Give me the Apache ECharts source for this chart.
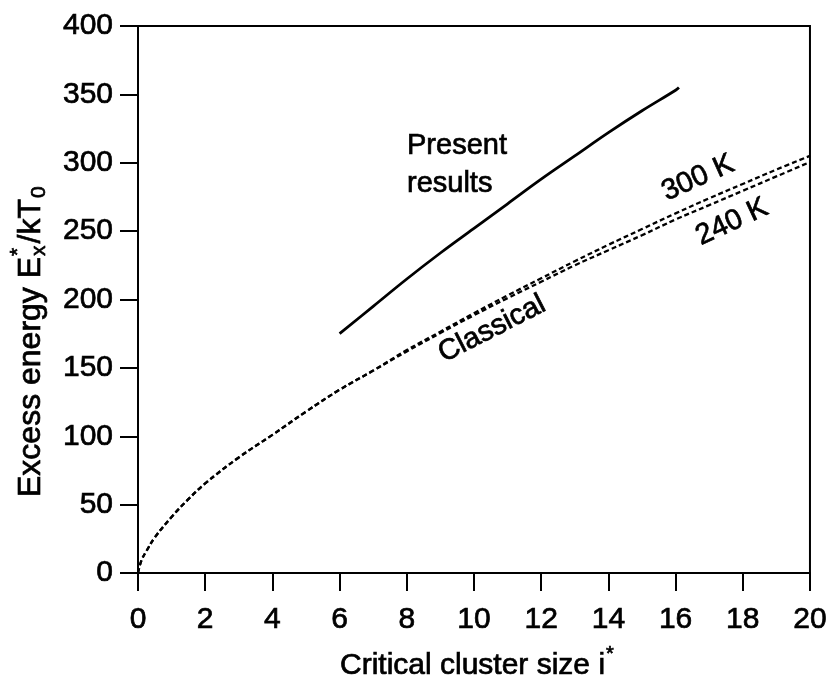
<!DOCTYPE html>
<html>
<head>
<meta charset="utf-8">
<script src="https://cdn.jsdelivr.net/npm/echarts@6/dist/echarts.min.js"></script>
<style>
    html, body { margin: 0; padding: 0; background: #fff; }
    #chart { width: 830px; height: 680px; }
</style>
</head>
<body>
<div id="chart"></div>
<script>
// critical cluster size i* (x) and excess energy Ex*/kT0 (y)
var classicalSize = [0, 0.1, 0.25, 0.5, 1, 1.5, 2, 3, 4, 5, 6, 7, 8, 9, 10, 11, 12, 13, 14, 15, 16, 17, 18, 19, 20];
var classical240 = [0, 9, 16, 26, 41, 54, 65.5, 84.5, 101, 118, 134, 148, 162, 175.5, 188.5, 201, 213, 225, 236, 247, 258.5, 269, 279.5, 290, 300.5];
var classical300 = [0, 9, 16, 26, 41, 54, 65.5, 84.5, 101, 118, 134, 148, 163, 176.5, 190, 203, 215.5, 228, 240, 251.5, 263, 274, 284.5, 295, 305];
var presentSize = [6, 7, 8, 9, 10, 11, 12, 13, 14, 15, 16, 16.1];
var presentEnergy = [175, 195, 215, 234, 252, 270, 288, 305, 322, 338, 353, 355];
var yTicks = [0, 400, 50];
var xTicks = [0, 20, 2];

var FONT = 'Liberation Sans, Arial, Helvetica, sans-serif';
var INK = 0.7; // scanned text looks a bit heavier than regular

function pairs(xs, ys) {
    var out = [];
    for (var i = 0; i < xs.length; i++) {
        out.push([xs[i], ys[i]]);
    }
    return out;
}

var ctx = document.createElement('canvas').getContext('2d');
function textWidth(str, size) {
    ctx.font = size + 'px ' + FONT;
    return ctx.measureText(str).width;
}

function txt(str, x, y, size, extra) {
    var style = { text: str, x: x, y: y, font: size + 'px ' + FONT, fill: '#000', stroke: '#000', lineWidth: INK };
    for (var k in extra) { style[k] = extra[k]; }
    return { type: 'text', style: style };
}

function rotated(str, x, y, size, angle) {
    return {
        type: 'text', x: x, y: y, rotation: angle * Math.PI / 180,
        style: { text: str, font: size + 'px ' + FONT, fill: '#000', stroke: '#000', lineWidth: INK,
                 align: 'center', verticalAlign: 'middle' }
    };
}

// y axis title, read bottom to top
var yName = [];
var yx = 0;
yName.push(txt('Excess energy E', yx, 0, 32, { verticalAlign: 'middle' }));
yx += textWidth('Excess energy E', 32) + 1;
yName.push(txt('*', yx, -13, 21, { verticalAlign: 'middle' }));
yName.push(txt('x', yx, 8, 21, { verticalAlign: 'middle' }));
yx += textWidth('x', 21) + 2;
yName.push(txt('/kT', yx, 0, 32, { verticalAlign: 'middle' }));
yx += textWidth('/kT', 32) + 1;
yName.push(txt('0', yx, 8, 21, { verticalAlign: 'middle' }));

// x axis title
var xName = [];
var xw = textWidth('Critical cluster size i', 30);
xName.push(txt('Critical cluster size i', 0, 0, 30, { verticalAlign: 'middle' }));
xName.push(txt('*', xw + 1, -12, 20, { verticalAlign: 'middle' }));

var chart = echarts.init(document.getElementById('chart'));
var option = {
    backgroundColor: '#fff',
    animation: false,
    grid: {
        left: 138, right: 18, top: 26, bottom: 107,
        show: true, borderColor: '#000', borderWidth: 2, backgroundColor: 'transparent'
    },
    xAxis: {
        type: 'value', min: xTicks[0], max: xTicks[1], interval: xTicks[2],
        axisLine: { lineStyle: { color: '#000', width: 2 } },
        axisTick: { inside: false, length: 18, lineStyle: { color: '#000', width: 2 } },
        axisLabel: { color: '#000', fontSize: 30, fontFamily: FONT, margin: 32,
                     textBorderColor: '#000', textBorderWidth: INK },
        splitLine: { show: false }
    },
    yAxis: {
        type: 'value', min: yTicks[0], max: yTicks[1], interval: yTicks[2],
        axisLine: { lineStyle: { color: '#000', width: 2 } },
        axisTick: { inside: false, length: 18, lineStyle: { color: '#000', width: 2 } },
        axisLabel: { color: '#000', fontSize: 30, fontFamily: FONT, margin: 25,
                     textBorderColor: '#000', textBorderWidth: INK },
        splitLine: { show: false }
    },
    series: [
        {
            name: 'Present results', type: 'line', smooth: 0.4, showSymbol: false,
            lineStyle: { color: '#000', width: 2.8, type: 'solid' },
            data: pairs(presentSize, presentEnergy)
        },
        {
            name: '300 K', type: 'line', smooth: 0.4, showSymbol: false,
            lineStyle: { color: '#000', width: 2.3, type: [5, 3] },
            data: pairs(classicalSize, classical300)
        },
        {
            name: '240 K', type: 'line', smooth: 0.4, showSymbol: false,
            lineStyle: { color: '#000', width: 2.3, type: [5, 3] },
            data: pairs(classicalSize, classical240)
        }
    ],
    graphic: [
        { type: 'group', x: 31, y: 497, rotation: Math.PI / 2, children: yName },
        { type: 'group', x: 340, y: 666, children: xName },
        txt('Present', 407, 146, 29, { verticalAlign: 'middle' }),
        txt('results', 407, 184, 29, { verticalAlign: 'middle' }),
        rotated('300 K', 698, 178, 29, 24),
        rotated('240 K', 732, 222, 29, 25),
        rotated('Classical', 492, 329, 29, 27)
    ]
};
chart.setOption(option);
</script>
</body>
</html>
